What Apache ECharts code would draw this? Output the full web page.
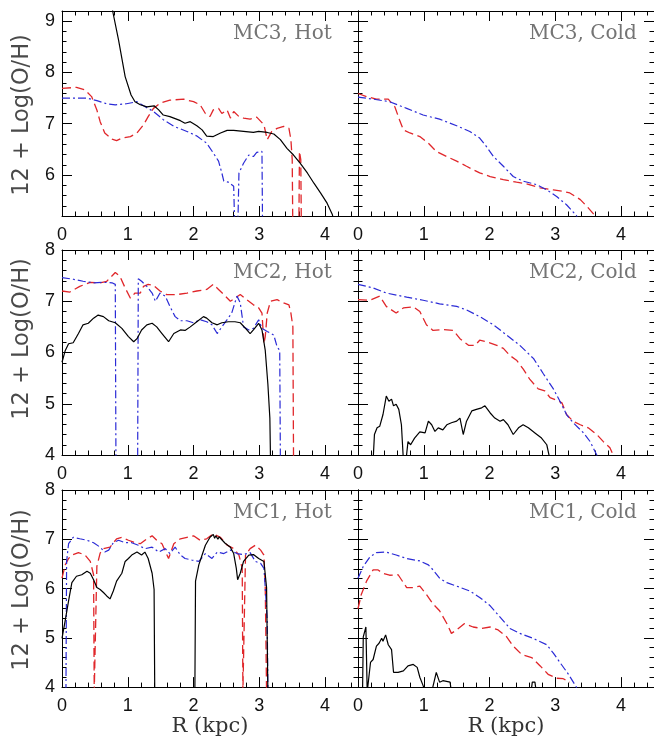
<!DOCTYPE html>
<html>
<head>
<meta charset="utf-8">
<script src="https://cdn.jsdelivr.net/npm/echarts@6/dist/echarts.min.js"></script>
<style>
html,body{margin:0;padding:0;background:#fff;}
#chart{width:654px;height:738px;}
</style>
</head>
<body>
<div id="chart"></div>
<script>
// ---- tick labels ----
const xTicks = [0, 1, 2, 3, 4];
const yTicksMC3 = [6, 7, 8, 9];
const yTicksMC = [4, 5, 6, 7, 8];

// ---- panel titles ----
const panelTitles = ["MC3, Hot", "MC3, Cold", "MC2, Hot", "MC2, Cold", "MC1, Hot", "MC1, Cold"];
const yName = "12 + Log(O/H)";
const xName = "R (kpc)";

// ---- data: [R (kpc), 12+log(O/H)] ----
const mc3HotSolid = [[0.74,9.5],[0.77,9.2],[0.86,8.63],[0.96,7.92],[1.05,7.56],[1.11,7.43],[1.19,7.37],[1.29,7.33],[1.40,7.35],[1.47,7.27],[1.54,7.17],[1.64,7.14],[1.70,7.11],[1.80,7.06],[1.87,7.01],[1.95,7.04],[2.05,6.96],[2.13,6.88],[2.20,6.76],[2.30,6.75],[2.41,6.82],[2.51,6.87],[2.61,6.87],[2.76,6.85],[2.91,6.83],[2.99,6.85],[3.12,6.83],[3.22,6.80],[3.32,6.69],[3.42,6.52],[3.52,6.39],[3.62,6.23],[3.73,6.04],[3.83,5.84],[3.93,5.65],[4.03,5.45],[4.11,5.23],[4.13,5.1]];
const mc3HotDashed = [[0,7.69],[0.22,7.71],[0.35,7.66],[0.45,7.53],[0.53,7.27],[0.58,7.04],[0.65,6.82],[0.76,6.70],[0.83,6.67],[0.91,6.72],[1.04,6.75],[1.14,6.82],[1.24,6.98],[1.31,7.14],[1.39,7.30],[1.49,7.40],[1.64,7.46],[1.85,7.48],[2.00,7.43],[2.10,7.37],[2.18,7.20],[2.25,7.14],[2.30,7.27],[2.38,7.30],[2.43,7.20],[2.51,7.27],[2.56,7.11],[2.61,7.24],[2.69,7.14],[2.76,7.11],[2.86,7.09],[2.96,7.13],[3.07,6.98],[3.12,6.69],[3.19,6.85],[3.27,6.91],[3.37,6.95],[3.45,6.91],[3.48,6.69],[3.50,6.30],[3.51,4.8],[3.60,4.8],[3.61,6.46],[3.63,6.30],[3.64,4.8]];
const mc3HotDashDot = [[0,7.50],[0.38,7.50],[0.53,7.45],[0.68,7.39],[0.81,7.37],[0.98,7.39],[1.14,7.43],[1.24,7.35],[1.39,7.24],[1.54,7.08],[1.70,6.95],[1.90,6.85],[2.05,6.76],[2.20,6.62],[2.30,6.43],[2.38,6.27],[2.43,6.04],[2.46,5.88],[2.53,5.86],[2.61,5.78],[2.63,4.8],[2.67,4.8],[2.69,6.04],[2.76,6.23],[2.84,6.39],[2.91,6.36],[2.96,6.44],[3.04,6.46],[3.05,4.8]];

const mc3ColdDashed = [[0,7.59],[0.13,7.53],[0.28,7.48],[0.46,7.48],[0.56,7.33],[0.63,7.08],[0.69,6.88],[0.79,6.82],[0.94,6.75],[1.07,6.62],[1.19,6.46],[1.35,6.36],[1.50,6.27],[1.65,6.17],[1.85,6.04],[2.01,5.97],[2.21,5.91],[2.41,5.86],[2.56,5.83],[2.77,5.75],[2.97,5.71],[3.12,5.68],[3.22,5.65],[3.38,5.52],[3.50,5.36],[3.60,5.21],[3.65,5.1]];
const mc3ColdDashDot = [[0,7.52],[0.23,7.48],[0.48,7.43],[0.74,7.30],[0.99,7.17],[1.24,7.09],[1.50,6.96],[1.70,6.85],[1.85,6.72],[1.95,6.56],[2.06,6.36],[2.21,6.17],[2.36,5.97],[2.51,5.88],[2.72,5.81],[2.87,5.71],[3.02,5.58],[3.17,5.42],[3.32,5.21],[3.36,5.1]];

const mc2HotSolid = [[0,5.81],[0.05,6.04],[0.10,6.17],[0.17,6.19],[0.25,6.37],[0.32,6.54],[0.40,6.57],[0.48,6.67],[0.55,6.73],[0.63,6.70],[0.71,6.62],[0.81,6.58],[0.91,6.47],[1.01,6.31],[1.09,6.21],[1.14,6.27],[1.21,6.44],[1.29,6.54],[1.37,6.57],[1.44,6.50],[1.52,6.37],[1.62,6.21],[1.70,6.37],[1.80,6.44],[1.87,6.43],[1.95,6.50],[2.05,6.60],[2.15,6.70],[2.20,6.67],[2.28,6.58],[2.36,6.54],[2.43,6.58],[2.53,6.60],[2.63,6.60],[2.71,6.58],[2.79,6.47],[2.86,6.37],[2.91,6.44],[2.99,6.57],[3.04,6.44],[3.09,6.04],[3.13,5.38],[3.16,4.72],[3.17,3.9]];
const mc2HotDashed = [[0,7.20],[0.12,7.18],[0.27,7.29],[0.43,7.37],[0.58,7.36],[0.68,7.39],[0.81,7.56],[0.88,7.49],[0.96,7.26],[1.04,7.06],[1.11,7.16],[1.19,7.16],[1.24,7.29],[1.31,7.33],[1.39,7.31],[1.49,7.20],[1.59,7.13],[1.75,7.13],[1.90,7.16],[2.05,7.20],[2.20,7.23],[2.30,7.33],[2.38,7.23],[2.46,7.13],[2.56,7.00],[2.63,7.06],[2.71,7.13],[2.81,7.03],[2.91,6.93],[2.99,6.87],[3.04,6.77],[3.07,6.17],[3.09,6.31],[3.12,6.77],[3.17,7.00],[3.27,7.03],[3.37,6.97],[3.45,6.93],[3.48,6.77],[3.51,6.50],[3.52,3.9]];
const mc2HotDashDot = [[0,7.46],[0.17,7.43],[0.32,7.39],[0.48,7.36],[0.63,7.37],[0.76,7.36],[0.81,7.33],[0.82,3.9],[1.15,3.9],[1.16,7.44],[1.21,7.39],[1.29,7.29],[1.37,7.16],[1.42,7.00],[1.49,7.16],[1.57,7.10],[1.64,6.90],[1.72,6.70],[1.80,6.62],[1.90,6.62],[2.00,6.58],[2.10,6.64],[2.20,6.60],[2.28,6.54],[2.36,6.37],[2.43,6.50],[2.51,6.64],[2.58,6.77],[2.66,7.10],[2.71,6.97],[2.76,6.50],[2.84,6.44],[2.91,6.47],[2.99,6.64],[3.04,6.47],[3.12,6.41],[3.22,6.34],[3.27,6.11],[3.31,6.04],[3.32,3.9]];

const mc2ColdSolid = [[0.23,3.9],[0.25,4.40],[0.29,4.53],[0.33,4.56],[0.38,4.79],[0.43,5.15],[0.47,5.05],[0.51,5.09],[0.54,4.96],[0.58,4.99],[0.62,4.89],[0.66,4.59],[0.69,3.9],[0.73,3.9],[0.76,4.26],[0.80,4.20],[0.86,4.33],[0.94,4.45],[1.02,4.43],[1.07,4.66],[1.12,4.59],[1.17,4.46],[1.22,4.53],[1.29,4.49],[1.35,4.59],[1.42,4.63],[1.50,4.66],[1.55,4.72],[1.60,4.40],[1.65,4.66],[1.73,4.86],[1.80,4.89],[1.88,4.92],[1.93,4.96],[2.01,4.82],[2.08,4.72],[2.16,4.66],[2.21,4.69],[2.28,4.59],[2.36,4.40],[2.44,4.53],[2.51,4.59],[2.59,4.53],[2.69,4.43],[2.79,4.33],[2.87,4.20],[2.92,3.9]];
const mc2ColdDashed = [[0,7.03],[0.18,7.02],[0.33,7.10],[0.43,6.90],[0.58,6.77],[0.69,6.87],[0.84,6.89],[0.94,6.80],[1.04,6.54],[1.14,6.43],[1.29,6.45],[1.45,6.43],[1.55,6.27],[1.68,6.14],[1.78,6.14],[1.85,6.24],[1.95,6.21],[2.11,6.14],[2.21,6.08],[2.31,5.94],[2.41,5.85],[2.51,5.68],[2.61,5.48],[2.74,5.29],[2.84,5.25],[2.92,5.12],[3.02,5.07],[3.10,5.02],[3.17,4.79],[3.27,4.66],[3.38,4.59],[3.50,4.53],[3.63,4.40],[3.73,4.26],[3.83,4.14],[3.88,4.0],[3.90,3.9]];
const mc2ColdDashDot = [[0,7.33],[0.23,7.26],[0.43,7.16],[0.74,7.08],[0.99,7.02],[1.24,6.95],[1.50,6.90],[1.65,6.83],[1.85,6.70],[2.06,6.54],[2.26,6.34],[2.46,6.14],[2.67,5.88],[2.82,5.58],[2.97,5.29],[3.07,5.05],[3.17,4.79],[3.27,4.63],[3.43,4.43],[3.53,4.26],[3.63,4.0],[3.65,3.9]];

const mc1HotSolid = [[0,4.99],[0.05,5.36],[0.10,5.75],[0.15,6.12],[0.22,6.25],[0.30,6.28],[0.38,6.35],[0.43,6.31],[0.48,6.18],[0.53,6.02],[0.58,5.98],[0.63,5.92],[0.68,5.85],[0.73,5.79],[0.78,5.95],[0.83,6.15],[0.91,6.31],[0.96,6.55],[1.01,6.61],[1.06,6.68],[1.14,6.74],[1.21,6.68],[1.26,6.74],[1.31,6.61],[1.37,6.31],[1.40,5.98],[1.41,3.9],[2.02,3.9],[2.03,6.15],[2.08,6.48],[2.13,6.68],[2.18,6.88],[2.25,7.04],[2.28,7.07],[2.30,7.10],[2.32,7.02],[2.34,7.07],[2.37,7.00],[2.39,7.05],[2.41,7.02],[2.43,6.99],[2.46,6.98],[2.48,6.92],[2.51,6.91],[2.56,6.84],[2.61,6.71],[2.65,6.41],[2.67,6.18],[2.71,6.31],[2.76,6.55],[2.84,6.68],[2.91,6.69],[2.99,6.61],[3.07,6.55],[3.11,6.02],[3.13,3.9]];
const mc1HotDashed = [[0,6.21],[0.05,6.48],[0.10,6.61],[0.15,6.68],[0.25,6.73],[0.35,6.68],[0.43,6.55],[0.48,6.28],[0.49,3.9],[0.51,3.9],[0.53,6.45],[0.58,6.72],[0.63,6.81],[0.73,6.84],[0.83,7.01],[0.91,7.04],[1.01,6.98],[1.09,6.94],[1.19,6.91],[1.29,7.01],[1.37,7.07],[1.44,6.98],[1.52,6.91],[1.62,6.61],[1.70,6.91],[1.80,7.01],[1.90,7.04],[2.00,7.07],[2.10,6.98],[2.20,7.01],[2.30,7.11],[2.41,7.04],[2.51,6.88],[2.61,6.81],[2.69,6.68],[2.74,6.41],[2.75,3.9],[2.78,3.9],[2.79,6.68],[2.86,6.81],[2.94,6.88],[3.02,6.78],[3.07,6.68],[3.09,6.02],[3.11,3.9]];
const mc1HotDashDot = [[0.06,3.9],[0.07,6.55],[0.10,6.91],[0.17,7.04],[0.27,7.01],[0.38,6.98],[0.48,6.93],[0.58,6.84],[0.65,6.74],[0.71,6.78],[0.78,6.93],[0.86,6.98],[0.96,6.93],[1.06,6.93],[1.16,6.88],[1.26,6.81],[1.37,6.84],[1.47,6.74],[1.57,6.81],[1.64,6.71],[1.72,6.84],[1.80,6.68],[1.87,6.61],[1.97,6.58],[2.08,6.55],[2.18,6.71],[2.28,6.61],[2.36,6.74],[2.46,6.71],[2.56,6.78],[2.66,6.71],[2.76,6.69],[2.86,6.73],[2.94,6.55],[3.02,6.51],[3.07,6.41],[3.09,6.02],[3.12,5.36],[3.13,3.9]];

const mc1ColdSolid = [[0.06,3.9],[0.07,4.0],[0.08,5.02],[0.10,5.0],[0.12,5.22],[0.14,3.9],[0.17,3.9],[0.19,4.50],[0.23,4.56],[0.28,4.83],[0.32,4.89],[0.36,4.99],[0.38,4.93],[0.42,5.06],[0.46,4.86],[0.51,4.76],[0.54,4.30],[0.61,4.30],[0.69,4.33],[0.76,4.43],[0.84,4.46],[0.90,4.40],[0.94,4.20],[0.99,4.03],[1.02,3.9],[1.12,3.9],[1.19,4.30],[1.24,4.10],[1.29,4.13],[1.40,4.10],[1.42,3.9],[2.63,3.9],[2.65,4.1],[2.69,4.1],[2.71,3.9]];
const mc1ColdDashed = [[0,5.59],[0.05,5.88],[0.13,6.15],[0.23,6.38],[0.30,6.38],[0.38,6.31],[0.48,6.27],[0.61,6.28],[0.69,6.12],[0.74,6.02],[0.84,6.02],[0.94,6.05],[1.04,5.88],[1.14,5.69],[1.24,5.55],[1.35,5.29],[1.42,5.09],[1.50,5.16],[1.62,5.29],[1.75,5.22],[1.88,5.19],[2.01,5.22],[2.13,5.16],[2.26,5.02],[2.36,4.83],[2.49,4.66],[2.64,4.60],[2.77,4.43],[2.89,4.26],[3.02,4.18],[3.12,4.17],[3.22,4.10]];
const mc1ColdDashDot = [[0,6.21],[0.08,6.45],[0.18,6.64],[0.28,6.73],[0.43,6.74],[0.58,6.68],[0.74,6.61],[0.94,6.56],[1.07,6.48],[1.14,6.38],[1.24,6.21],[1.35,6.12],[1.50,6.05],[1.70,5.95],[1.85,5.82],[2.01,5.65],[2.16,5.42],[2.31,5.19],[2.46,5.09],[2.66,4.99],[2.87,4.86],[2.97,4.69],[3.07,4.50],[3.20,4.26],[3.32,4.0],[3.34,3.9]];

// ---- layout ----
const colLeft = [62, 358];
const colWidth = [296, 297];
const rowTop = [11, 250, 490];
const rowHeight = [205, 205, 205];
const rowYRange = [[5.2, 9.2], [4, 8], [4, 8]];
const rowYTicks = [yTicksMC3, yTicksMC, yTicksMC];
const yNameCenter = [115, 339, 590];

const panels = [
  {solid: mc3HotSolid, dashed: mc3HotDashed, dashdot: mc3HotDashDot},
  {solid: null, dashed: mc3ColdDashed, dashdot: mc3ColdDashDot},
  {solid: mc2HotSolid, dashed: mc2HotDashed, dashdot: mc2HotDashDot},
  {solid: mc2ColdSolid, dashed: mc2ColdDashed, dashdot: mc2ColdDashDot},
  {solid: mc1HotSolid, dashed: mc1HotDashed, dashdot: mc1HotDashDot},
  {solid: mc1ColdSolid, dashed: mc1ColdDashed, dashdot: mc1ColdDashDot}
];

const labelFont = {fontSize: 18, color: '#111', fontFamily: 'Liberation Sans, Arial, sans-serif'};
const grids = [], xAxes = [], yAxes = [], series = [], graphics = [];

panels.forEach((p, i) => {
  const row = Math.floor(i / 2), col = i % 2;
  grids.push({left: colLeft[col], top: rowTop[row], width: colWidth[col], height: rowHeight[row], containLabel: false});
  const [ymin, ymax] = rowYRange[row];
  const base = 4 * i;
  [['bottom', true], ['bottom', false], ['top', true], ['top', false]].forEach(([pos, major], k) => {
    const ax = {
      type: 'value', gridIndex: i, position: pos, min: 0, max: 4.5,
      axisLine: {show: major, onZero: false, lineStyle: {color: '#000', width: 1}},
      axisTick: {show: true, inside: true, length: major ? 10 : 4.5, lineStyle: {color: '#000', width: 1}},
      axisLabel: {show: major && pos === 'bottom', margin: 10, ...labelFont},
      splitLine: {show: false}
    };
    if (major) { ax.axisTick.customValues = xTicks; ax.axisLabel.customValues = xTicks; }
    else { ax.interval = 0.2; }
    if (k === 0 && row === 2) {
      ax.name = xName; ax.nameLocation = 'middle'; ax.nameGap = 9;
      ax.nameTextStyle = {fontSize: 21, color: '#333', fontFamily: 'DejaVu Serif, serif'};
    }
    xAxes.push(ax);
  });
  [['left', true], ['left', false], ['right', true], ['right', false]].forEach(([pos, major]) => {
    const ax = {
      type: 'value', gridIndex: i, position: pos, min: ymin, max: ymax,
      axisLine: {show: major, onZero: false, lineStyle: {color: '#000', width: 1}},
      axisTick: {show: true, inside: true, length: major ? 10 : 4.5, lineStyle: {color: '#000', width: 1}},
      axisLabel: {show: major && pos === 'left' && col === 0, margin: 7, padding: [4, 0, 0, 0], ...labelFont},
      splitLine: {show: false}
    };
    if (major) { ax.axisTick.customValues = rowYTicks[row]; ax.axisLabel.customValues = rowYTicks[row]; }
    else { ax.interval = 0.2; }
    yAxes.push(ax);
  });
  const common = {type: 'line', xAxisIndex: base, yAxisIndex: base, symbol: 'none', clip: true, silent: true, animation: false};
  if (p.dashed) series.push({...common, name: 'dashed', data: p.dashed, lineStyle: {color: '#e0262a', width: 1.3, type: [9, 4.5]}, z: 3});
  if (p.dashdot) series.push({...common, name: 'dashdot', data: p.dashdot, lineStyle: {color: '#2b2bd6', width: 1.2, type: [8, 3, 2, 3]}, z: 4});
  if (p.solid) series.push({...common, name: 'solid', data: p.solid, lineStyle: {color: '#000', width: 1.2, type: 'solid'}, z: 5});

  graphics.push({
    type: 'text', left: colLeft[col] + 171, top: rowTop[row] + 13,
    style: {text: panelTitles[i], fontSize: 20, fontFamily: 'DejaVu Serif, serif', fill: '#747474'}
  });
  if (col === 0) {
    graphics.push({
      type: 'text', x: 22, y: yNameCenter[row], rotation: Math.PI / 2,
      style: {text: yName, fontSize: 22.5, fontFamily: 'DejaVu Sans, sans-serif', fill: '#4a4a4a', align: 'center', verticalAlign: 'middle'}
    });
  }
});

const chart = echarts.init(document.getElementById('chart'), null, {renderer: 'canvas'});
chart.setOption({
  backgroundColor: '#fff',
  animation: false,
  grid: grids,
  xAxis: xAxes,
  yAxis: yAxes,
  series: series,
  graphic: graphics
});
</script>
</body>
</html>
